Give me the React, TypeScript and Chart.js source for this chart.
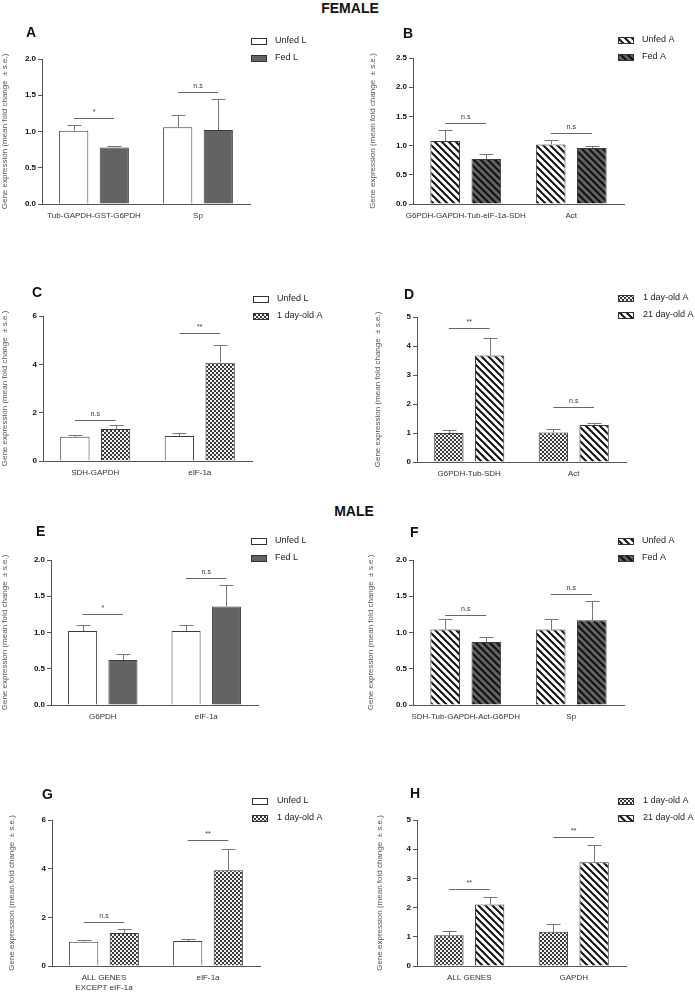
import React, { useEffect, useRef } from "react";
import { Chart, registerables } from "chart.js";

Chart.register(...registerables);

const FONT = "'Liberation Sans', Arial, Helvetica, sans-serif";
Chart.defaults.font.family = FONT;

// ---------------- DATA ----------------
// Panel A (female larvae)
const aCategories = ["Tub-GAPDH-GST-G6PDH", "Sp"];
const aUnfedL = [1.01, 1.06];
const aUnfedLSe = [0.08, 0.17];
const aFedL = [0.78, 1.02];
const aFedLSe = [0.02, 0.43];
const aSig = [1.19, 1.55];
const aSigLabels = ["*", "n.s"];

// Panel B (female adults)
const bCategories = ["G6PDH-GAPDH-Tub-eIF-1a-SDH", "Act"];
const bUnfedA = [1.08, 1.02];
const bUnfedASe = [0.19, 0.08];
const bFedA = [0.77, 0.96];
const bFedASe = [0.09, 0.04];
const bSig = [1.39, 1.21];
const bSigLabels = ["n.s", "n.s"];

// Panel C
const cCategories = ["SDH-GAPDH", "eIF-1a"];
const cUnfedL = [1.0, 1.03];
const cUnfedLSe = [0.06, 0.11];
const cDay1 = [1.32, 4.07];
const cDay1Se = [0.15, 0.74];
const cSig = [1.68, 5.29];
const cSigLabels = ["n.s", "**"];

// Panel D
const dCategories = ["G6PDH-Tub-SDH", "Act"];
const dDay1 = [1.0, 1.02];
const dDay1Se = [0.09, 0.12];
const dDay21 = [3.67, 1.28];
const dDay21Se = [0.6, 0.08];
const dSig = [4.63, 1.88];
const dSigLabels = ["**", "n.s"];

// Panel E (male)
const eCategories = ["G6PDH", "eIF-1a"];
const eUnfedL = [1.02, 1.02];
const eUnfedLSe = [0.09, 0.09];
const eFedL = [0.62, 1.36];
const eFedLSe = [0.09, 0.29];
const eSig = [1.26, 1.75];
const eSigLabels = ["*", "n.s"];

// Panel F
const fCategories = ["SDH-Tub-GAPDH-Act-G6PDH", "Sp"];
const fUnfedA = [1.04, 1.04];
const fUnfedASe = [0.14, 0.14];
const fFedA = [0.87, 1.17];
const fFedASe = [0.07, 0.27];
const fSig = [1.24, 1.53];
const fSigLabels = ["n.s", "n.s"];

// Panel G
const gCategories: (string | string[])[] = [["ALL GENES", "EXCEPT eIF-1a"], "eIF-1a"];
const gUnfedL = [1.0, 1.03];
const gUnfedLSe = [0.06, 0.1];
const gDay1 = [1.36, 3.94];
const gDay1Se = [0.16, 0.85];
const gSig = [1.81, 5.18];
const gSigLabels = ["n.s", "**"];

// Panel H
const hCategories = ["ALL GENES", "GAPDH"];
const hDay1 = [1.05, 1.17];
const hDay1Se = [0.15, 0.27];
const hDay21 = [2.11, 3.55];
const hDay21Se = [0.27, 0.58];
const hSig = [2.63, 4.41];
const hSigLabels = ["**", "**"];

const yTitle = "Gene expression (mean fold change  \u00B1 s.e.)";

// ---------------- STYLE ----------------
type FillKind = "white" | "dark" | "stripeWhite" | "stripeDark" | "checker";

function makeFill(kind: FillKind): string | CanvasPattern {
  if (kind === "white") return "#ffffff";
  if (kind === "dark") return "#636363";
  const c = document.createElement("canvas");
  const ctx = c.getContext("2d")!;
  if (kind === "checker") {
    c.width = 4;
    c.height = 4;
    ctx.fillStyle = "#f2f2f2";
    ctx.fillRect(0, 0, 4, 4);
    ctx.fillStyle = "#3a3a3a";
    ctx.fillRect(0, 0, 2, 2);
    ctx.fillRect(2, 2, 2, 2);
  } else {
    const s = 7;
    c.width = s;
    c.height = s;
    ctx.fillStyle = kind === "stripeDark" ? "#636363" : "#ffffff";
    ctx.fillRect(0, 0, s, s);
    ctx.strokeStyle = "#111111";
    ctx.lineWidth = 2;
    ctx.beginPath();
    ctx.moveTo(-1, -1);
    ctx.lineTo(s + 1, s + 1);
    ctx.moveTo(-1, s - 1);
    ctx.lineTo(1, s + 1);
    ctx.moveTo(s - 1, -1);
    ctx.lineTo(s + 1, 1);
    ctx.stroke();
  }
  return ctx.createPattern(c, "repeat")!;
}

interface Series {
  label: string;
  fill: FillKind;
  values: number[];
  se: number[];
}

interface PanelSpec {
  letter: string;
  letterX: number;
  letterY: number;
  cx: number;
  cy: number;
  cw: number;
  L: number;
  R: number;
  T: number;
  B: number;
  max: number;
  step: number;
  titleX: number;
  categories: (string | string[])[];
  series: Series[];
  sig: number[];
  sigLabels: string[];
  legX: number;
  legY: number;
  legTextX: number;
}

const panels: PanelSpec[] = [
  {
    letter: "A", letterX: 26, letterY: 33, cx: 0, cy: 19, cw: 345,
    L: 42, R: 250, T: 59, B: 204, max: 2, step: 0.5, titleX: 5,
    categories: aCategories,
    series: [
      { label: "Unfed L", fill: "white", values: aUnfedL, se: aUnfedLSe },
      { label: "Fed L", fill: "dark", values: aFedL, se: aFedLSe },
    ],
    sig: aSig, sigLabels: aSigLabels, legX: 251, legY: 41, legTextX: 275,
  },
  {
    letter: "B", letterX: 403, letterY: 34, cx: 360, cy: 18, cw: 335,
    L: 413, R: 624, T: 58, B: 204, max: 2.5, step: 0.5, titleX: 373,
    categories: bCategories,
    series: [
      { label: "Unfed A", fill: "stripeWhite", values: bUnfedA, se: bUnfedASe },
      { label: "Fed A", fill: "stripeDark", values: bFedA, se: bFedASe },
    ],
    sig: bSig, sigLabels: bSigLabels, legX: 618, legY: 40, legTextX: 642,
  },
  {
    letter: "C", letterX: 32, letterY: 293, cx: 0, cy: 276, cw: 345,
    L: 43, R: 252, T: 316, B: 461, max: 6, step: 2, titleX: 4.5,
    categories: cCategories,
    series: [
      { label: "Unfed L", fill: "white", values: cUnfedL, se: cUnfedLSe },
      { label: "1 day-old A", fill: "checker", values: cDay1, se: cDay1Se },
    ],
    sig: cSig, sigLabels: cSigLabels, legX: 253, legY: 299, legTextX: 277,
  },
  {
    letter: "D", letterX: 404, letterY: 295, cx: 360, cy: 277, cw: 335,
    L: 417, R: 626, T: 317, B: 462, max: 5, step: 1, titleX: 378,
    categories: dCategories,
    series: [
      { label: "1 day-old A", fill: "checker", values: dDay1, se: dDay1Se },
      { label: "21 day-old A", fill: "stripeWhite", values: dDay21, se: dDay21Se },
    ],
    sig: dSig, sigLabels: dSigLabels, legX: 618, legY: 298, legTextX: 643,
  },
  {
    letter: "E", letterX: 36, letterY: 532, cx: 0, cy: 520, cw: 345,
    L: 51, R: 258, T: 560, B: 705, max: 2, step: 0.5, titleX: 4,
    categories: eCategories,
    series: [
      { label: "Unfed L", fill: "white", values: eUnfedL, se: eUnfedLSe },
      { label: "Fed L", fill: "dark", values: eFedL, se: eFedLSe },
    ],
    sig: eSig, sigLabels: eSigLabels, legX: 251, legY: 541, legTextX: 275,
  },
  {
    letter: "F", letterX: 410, letterY: 533, cx: 360, cy: 520, cw: 335,
    L: 413, R: 624, T: 560, B: 705, max: 2, step: 0.5, titleX: 371,
    categories: fCategories,
    series: [
      { label: "Unfed A", fill: "stripeWhite", values: fUnfedA, se: fUnfedASe },
      { label: "Fed A", fill: "stripeDark", values: fFedA, se: fFedASe },
    ],
    sig: fSig, sigLabels: fSigLabels, legX: 618, legY: 541, legTextX: 642,
  },
  {
    letter: "G", letterX: 42, letterY: 795, cx: 0, cy: 780, cw: 345,
    L: 52, R: 260, T: 820, B: 966, max: 6, step: 2, titleX: 12,
    categories: gCategories,
    series: [
      { label: "Unfed L", fill: "white", values: gUnfedL, se: gUnfedLSe },
      { label: "1 day-old A", fill: "checker", values: gDay1, se: gDay1Se },
    ],
    sig: gSig, sigLabels: gSigLabels, legX: 252, legY: 801, legTextX: 277,
  },
  {
    letter: "H", letterX: 410, letterY: 794, cx: 360, cy: 780, cw: 335,
    L: 417, R: 626, T: 820, B: 966, max: 5, step: 1, titleX: 380,
    categories: hCategories,
    series: [
      { label: "1 day-old A", fill: "checker", values: hDay1, se: hDay1Se },
      { label: "21 day-old A", fill: "stripeWhite", values: hDay21, se: hDay21Se },
    ],
    sig: hSig, sigLabels: hSigLabels, legX: 618, legY: 801, legTextX: 643,
  },
];

function Panel({ p }: { p: PanelSpec }) {
  const ref = useRef<HTMLCanvasElement | null>(null);
  const ch = Math.min(p.B + 30, 992) - p.cy;

  useEffect(() => {
    if (!ref.current) return;
    const fills = p.series.map((s) => makeFill(s.fill));
    const overlay = {
      id: "overlay" + p.letter,
      afterDatasetsDraw(chart: any) {
        const ctx: CanvasRenderingContext2D = chart.ctx;
        const y = chart.scales.y;
        ctx.save();
        // error bars
        ctx.strokeStyle = "#777777";
        ctx.lineWidth = 1;
        p.series.forEach((s, di) => {
          const meta = chart.getDatasetMeta(di);
          meta.data.forEach((bar: any, i: number) => {
            const x = Math.round(bar.x) + 0.5;
            const top = Math.round(y.getPixelForValue(s.values[i] + s.se[i])) + 0.5;
            ctx.beginPath();
            ctx.moveTo(x, bar.y);
            ctx.lineTo(x, top);
            ctx.moveTo(x - 7, top);
            ctx.lineTo(x + 7, top);
            ctx.stroke();
          });
        });
        // significance lines
        const m0 = chart.getDatasetMeta(0);
        const m1 = chart.getDatasetMeta(1);
        p.sig.forEach((v, i) => {
          const x1 = m0.data[i].x;
          const x2 = m1.data[i].x;
          const yy = Math.round(y.getPixelForValue(v)) + 0.5;
          ctx.strokeStyle = "#666666";
          ctx.lineWidth = 1;
          ctx.beginPath();
          ctx.moveTo(x1, yy);
          ctx.lineTo(x2, yy);
          ctx.stroke();
          ctx.fillStyle = "#333333";
          ctx.font = `7px ${FONT}`;
          ctx.textAlign = "center";
          ctx.textBaseline = "bottom";
          ctx.fillText(p.sigLabels[i], (x1 + x2) / 2, yy - 3);
        });
        // panel letter
        ctx.fillStyle = "#111111";
        ctx.font = `bold 14px ${FONT}`;
        ctx.textAlign = "left";
        ctx.textBaseline = "middle";
        ctx.fillText(p.letter, p.letterX - p.cx, p.letterY - p.cy);
        // legend
        p.series.forEach((s, k) => {
          const ly = p.legY + 17 * k - p.cy;
          ctx.fillStyle = fills[k] as any;
          ctx.fillRect(p.legX - p.cx, ly - 3, 15, 6);
          ctx.strokeStyle = "#333333";
          ctx.lineWidth = 1;
          ctx.strokeRect(p.legX - p.cx + 0.5, Math.round(ly - 3) + 0.5, 15, 6);
          ctx.fillStyle = "#222222";
          ctx.font = `9px ${FONT}`;
          ctx.textAlign = "left";
          ctx.textBaseline = "middle";
          ctx.fillText(s.label, p.legTextX - p.cx, ly);
        });
        ctx.restore();
      },
    };

    const chart = new Chart(ref.current, {
      type: "bar",
      data: {
        labels: p.categories as any,
        datasets: p.series.map((s, k) => ({
          label: s.label,
          data: s.values,
          backgroundColor: fills[k] as any,
          borderColor: "#3a3a3a",
          borderWidth: 1,
          categoryPercentage: 0.78,
          barPercentage: 0.72,
        })),
      },
      options: {
        responsive: false,
        animation: false,
        events: [],
        layout: {
          padding: {
            left: 0,
            top: p.T - p.cy,
            right: p.cw - (p.R - p.cx),
            bottom: 0,
          },
        },
        plugins: {
          legend: { display: false },
          tooltip: { enabled: false },
        },
        scales: {
          x: {
            type: "category",
            grid: { display: false, drawTicks: false },
            border: { display: true, color: "#555555", width: 1 },
            ticks: {
              color: "#333333",
              font: { size: 8 },
              padding: 7,
              maxRotation: 0,
              autoSkip: false,
            },
            afterFit: (s: any) => {
              s.height = ch - (p.B - p.cy);
            },
          },
          y: {
            min: 0,
            max: p.max,
            grid: {
              drawOnChartArea: false,
              drawTicks: true,
              tickLength: 4,
              color: "#555555",
            },
            border: { display: true, color: "#555555", width: 1 },
            ticks: {
              stepSize: p.step,
              color: "#111111",
              font: { size: 8, weight: "bold" },
              padding: 2,
              callback: (v: any) => (p.step < 1 ? Number(v).toFixed(1) : String(v)),
            },
            title: {
              display: true,
              text: yTitle,
              color: "#555555",
              font: { size: 8 },
              padding: { top: Math.max(0, p.titleX - p.cx - 4.8), bottom: 0 },
            },
            afterFit: (s: any) => {
              s.width = p.L - p.cx;
            },
          },
        },
      },
      plugins: [overlay],
    });
    return () => chart.destroy();
  }, [p, ch]);

  return (
    <canvas
      ref={ref}
      width={p.cw}
      height={ch}
      style={{ position: "absolute", left: p.cx, top: p.cy, width: p.cw, height: ch }}
    />
  );
}

export default function App() {
  const titleStyle: React.CSSProperties = {
    position: "absolute",
    width: 200,
    textAlign: "center",
    fontFamily: FONT,
    fontWeight: "bold",
    fontSize: 14,
    lineHeight: "16px",
    color: "#111",
  };
  return (
    <div
      style={{
        position: "absolute",
        left: 0,
        top: 0,
        width: 695,
        height: 992,
        background: "#ffffff",
        overflow: "hidden",
      }}
    >
      <div style={{ ...titleStyle, left: 250, top: 0 }}>FEMALE</div>
      <div style={{ ...titleStyle, left: 254, top: 503 }}>MALE</div>
      {panels.map((p) => (
        <Panel key={p.letter} p={p} />
      ))}
    </div>
  );
}
